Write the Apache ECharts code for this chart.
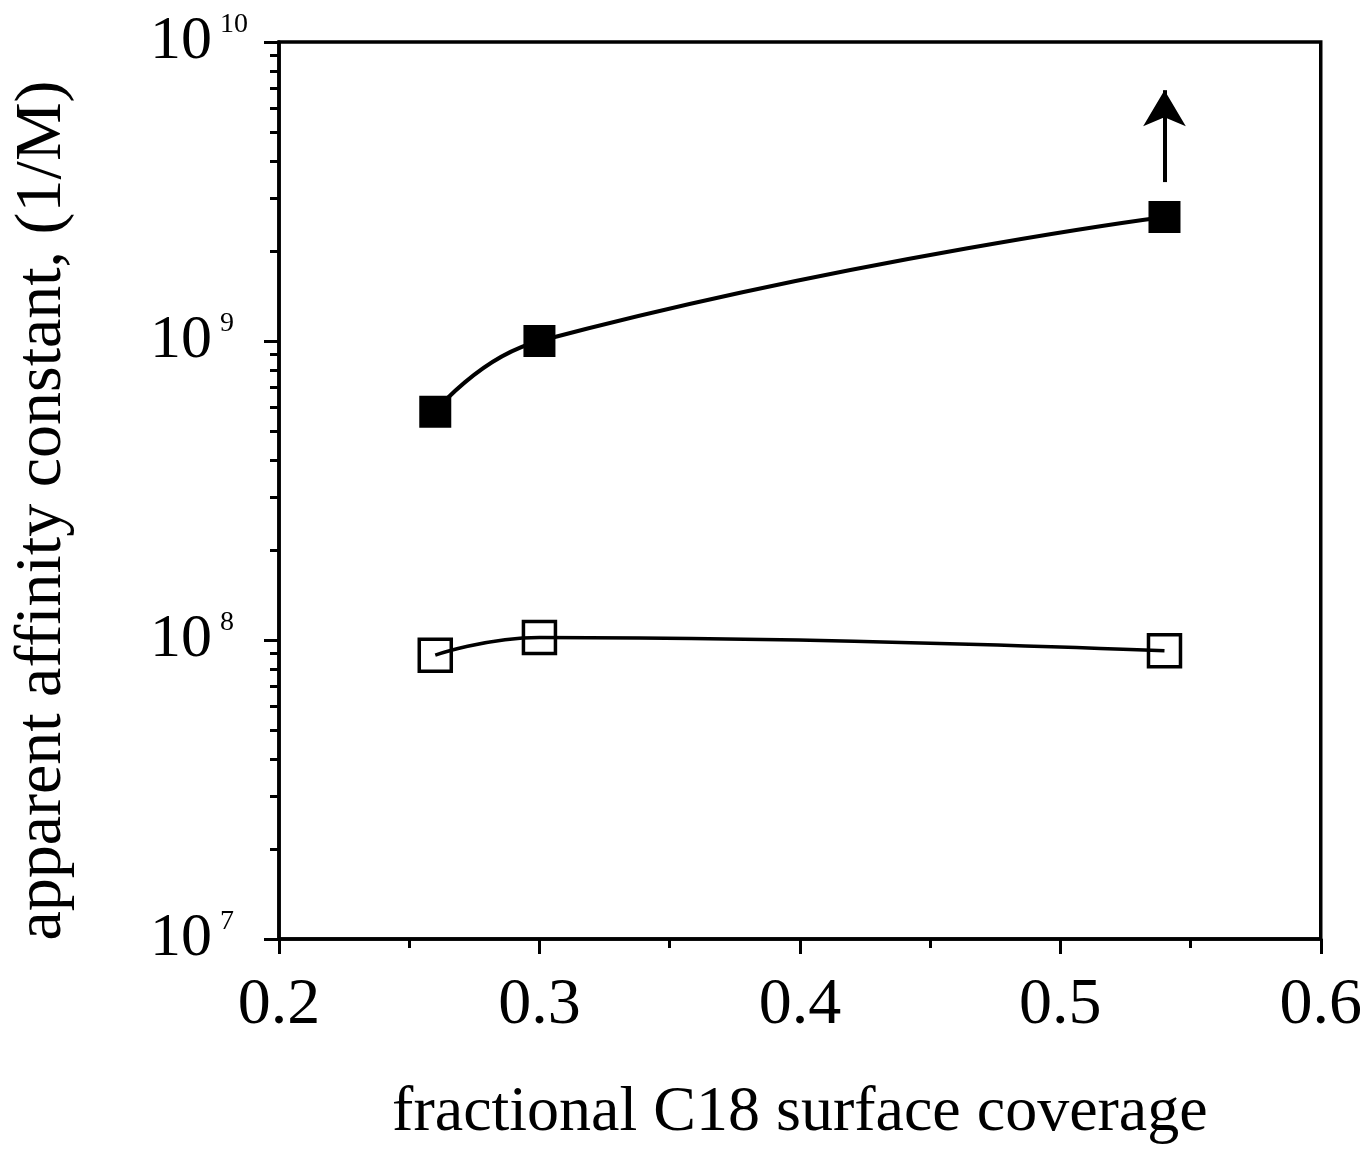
<!DOCTYPE html>
<html>
<head>
<meta charset="utf-8">
<script src="https://cdn.jsdelivr.net/npm/echarts@6/dist/echarts.min.js"></script>
<style>
html,body{margin:0;padding:0;background:#fff;}
#chart{width:1365px;height:1150px;}
</style>
</head>
<body>
<div id="chart"></div>
<script>
// Data
const coverage = [0.26, 0.30, 0.54];
const filledValues = [5.8e8, 1.0e9, 2.6e9];
const openValues = [8.9e7, 1.02e8, 9.2e7];
const xTicks = [0.2, 0.3, 0.4, 0.5, 0.6];
const yMajorTicks = [1e7, 1e8, 1e9, 1e10];
const yMinorTicks = [2e7,3e7,4e7,5e7,6e7,7e7,8e7,9e7,
                     2e8,3e8,4e8,5e8,6e8,7e8,8e8,9e8,
                     2e9,3e9,4e9,5e9,6e9,7e9,8e9,9e9];
const arrowStart = [0.54, 3.4e9];
const arrowEnd = [0.54, 6.9e9];

const FONT = 'Liberation Serif';
const chart = echarts.init(document.getElementById('chart'), null, {renderer:'canvas'});

const filledData = coverage.map((x, i) => [x, filledValues[i]]);
const openData = coverage.map((x, i) => [x, openValues[i]]);

chart.setOption({
  backgroundColor: '#fff',
  animation: false,
  grid: {
    left: 279, right: 44, top: 42, bottom: 206,
    show: true, borderColor: '#000', borderWidth: 3.5, backgroundColor: 'transparent'
  },
  xAxis: {
    type: 'value', min: 0.2, max: 0.6, interval: 0.1,
    name: 'fractional C18 surface coverage',
    nameLocation: 'middle', nameGap: 142,
    nameTextStyle: { fontFamily: FONT, fontSize: 64, color: '#000' },
    axisLine: { show: true, lineStyle: { color: '#000', width: 3.5 } },
    axisTick: { show: true, inside: false, length: 15, lineStyle: { color: '#000', width: 3 } },
    minorTick: { show: true, splitNumber: 2, length: 9, lineStyle: { color: '#000', width: 3 } },
    splitLine: { show: false },
    axisLabel: {
      fontFamily: FONT, fontSize: 66, color: '#000', margin: 34,
      customValues: xTicks,
      formatter: v => v.toFixed(1)
    }
  },
  yAxis: [{
    type: 'log', logBase: 10, min: 1e7, max: 1e10,
    name: 'apparent affinity constant, (1/M)',
    nameLocation: 'middle', nameGap: 203, nameRotate: 90,
    nameTextStyle: { fontFamily: FONT, fontSize: 66, color: '#000', padding: [0, 40, 0, 0] },
    axisLine: { show: true, lineStyle: { color: '#000', width: 3.5 } },
    axisTick: { show: true, length: 15, customValues: yMajorTicks, lineStyle: { color: '#000', width: 3 } },
    splitLine: { show: false },
    axisLabel: {
      customValues: yMajorTicks,
      align: 'left', margin: 129,
      formatter: v => '{b|10}{s|' + Math.round(Math.log10(v)) + '}',
      rich: {
        b: { fontFamily: FONT, fontSize: 62, color: '#000' },
        s: { fontFamily: FONT, fontSize: 28, color: '#000', verticalAlign: 'top', padding: [0,0,0,8] }
      }
    }
  }, {
    type: 'log', logBase: 10, min: 1e7, max: 1e10, position: 'left',
    axisLine: { show: false },
    axisLabel: { show: false },
    splitLine: { show: false },
    axisTick: { show: true, length: 9, customValues: yMinorTicks, lineStyle: { color: '#000', width: 3 } }
  }],
  series: [{
    type: 'line', name: 'filled', yAxisIndex: 0,
    data: filledData, smooth: 0.5,
    symbol: 'rect', symbolSize: 32,
    lineStyle: { color: '#000', width: 4 },
    itemStyle: { color: '#000', borderColor: '#000', borderWidth: 0 },
    markLine: {
      silent: true, animation: false,
      symbol: ['none', 'arrow'], symbolSize: [32, 36],
      label: { show: false },
      lineStyle: { color: '#000', width: 4, type: 'solid' },
      data: [[{ coord: arrowStart }, { coord: arrowEnd }]]
    }
  }, {
    type: 'line', name: 'open', yAxisIndex: 0,
    data: openData, smooth: 0.5,
    symbol: 'rect', symbolSize: 32,
    lineStyle: { color: '#000', width: 3.5 },
    itemStyle: { color: 'rgba(0,0,0,0)', borderColor: '#000', borderWidth: 3.5 }
  }]
});
</script>
</body>
</html>
